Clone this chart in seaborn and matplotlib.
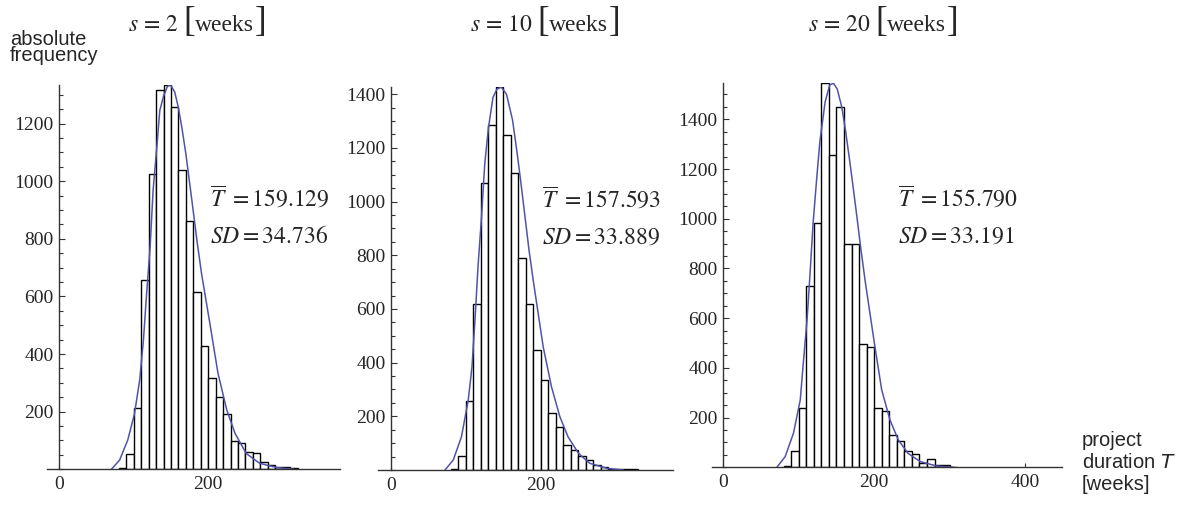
import numpy as np
import pandas as pd
import matplotlib
matplotlib.use('Agg')
import matplotlib.pyplot as plt
from matplotlib.ticker import MultipleLocator
import seaborn as sns

# Set style
sns.set_style('ticks')
plt.rcParams['font.family'] = ['Liberation Serif', 'DejaVu Serif']
plt.rcParams['mathtext.fontset'] = 'stix'

# --- data (bin width 10 weeks, first bin starts at 80) ---
titles = ['2', '10', '20']
mean_T = ['159.129', '157.593', '155.790']
sd_T = ['34.736', '33.889', '33.191']

counts_s2 = [5, 52, 212, 657, 1024, 1318, 1333, 1258, 1040, 862, 614, 428,
             316, 252, 191, 97, 92, 61, 55, 26, 16, 7, 9, 4]
counts_s10 = [5, 53, 258, 617, 1068, 1285, 1427, 1249, 1105, 791, 618, 446,
              337, 214, 160, 93, 75, 53, 36, 19, 12, 5, 3, 2, 2]
counts_s20 = [5, 66, 239, 730, 982, 1545, 1257, 1448, 898, 898, 496, 483,
              237, 226, 130, 106, 66, 53, 16, 33, 8, 8, 3]

# fitted density curves (absolute frequency scale)
curve_x_s2 = [70, 81, 92, 101, 108, 113, 117, 122, 126, 131, 135, 140, 145, 149,
              155, 160, 165, 170, 178, 185, 191, 202, 213, 225, 236, 251, 269, 292, 315]
curve_y_s2 = [0, 32, 102, 193, 310, 448, 599, 772, 969, 1119, 1246, 1295, 1328, 1336,
              1310, 1255, 1180, 1095, 935, 792, 680, 510, 335, 205, 125, 55, 21, 6, 0]
curve_x_s10 = [72, 83, 94, 103, 108, 112, 116, 121, 125, 130, 136, 141, 147, 154,
               162, 168, 173, 179, 184, 190, 203, 214, 225, 236, 250, 265, 288, 310]
curve_y_s10 = [0, 37, 124, 260, 384, 558, 756, 954, 1140, 1276, 1388, 1418, 1427, 1400,
               1305, 1185, 1075, 936, 820, 700, 458, 310, 200, 124, 62, 25, 6, 0]
curve_x_s20 = [71, 82, 93, 102, 106, 111, 115, 119, 124, 128, 135, 141, 146, 151,
               157, 162, 167, 172, 177, 182, 188, 201, 210, 221, 232, 245, 261, 283, 305]
curve_y_s20 = [0, 43, 137, 271, 418, 593, 780, 981, 1169, 1310, 1470, 1538, 1545, 1522,
               1450, 1355, 1245, 1130, 1010, 887, 750, 485, 311, 190, 110, 56, 23, 5, 0]

counts = [counts_s2, counts_s10, counts_s20]
curves = [(curve_x_s2, curve_y_s2), (curve_x_s10, curve_y_s10), (curve_x_s20, curve_y_s20)]

W, H = 1190, 505
fig = plt.figure(figsize=(W / 100, H / 100), dpi=100)
renderer = fig.canvas.get_renderer()


def px_rect(left, right, top, bottom):
    return [left / W, 1 - bottom / H, (right - left) / W, (bottom - top) / H]


# panel boxes in pixels, and axis ranges
boxes = [(47, 340, 85, 469.3), (378, 673, 86.7, 470), (712, 1062, 83, 467.3)]
xlims = [(-16.5, 377), (-17.3, 376), (-15, 449)]
ylims = [(0, 1334), (0, 1428), (0, 1546)]
xticks = [[0, 200], [0, 200], [0, 200, 400]]
text_pos = [(203, 910, 785), (201, 979, 845), (232, 1048, 903)]
title_x = [128, 470, 808]
curve_color = '#5252aa'

for i in range(3):
    ax = fig.add_axes(px_rect(*boxes[i]))
    c = counts[i]
    df = pd.DataFrame({'T': 85 + 10 * np.arange(len(c)), 'n': c})
    sns.histplot(data=df, x='T', weights='n', binwidth=10,
                 binrange=(80, 80 + 10 * len(c)), ax=ax, color='white',
                 edgecolor='black', linewidth=1.0, alpha=1)
    sns.lineplot(x=curves[i][0], y=curves[i][1], ax=ax, color=curve_color,
                 linewidth=1.1)
    ax.set_xlim(*xlims[i])
    ax.set_ylim(*ylims[i])
    ax.set_xlabel('')
    ax.set_ylabel('')
    for s in ['top', 'right']:
        ax.spines[s].set_visible(False)
    ax.spines['left'].set_position(('data', 0))
    for s in ['left', 'bottom']:
        ax.spines[s].set_color('#333333')
        ax.spines[s].set_linewidth(1.0)
    ax.set_xticks(xticks[i])
    ax.set_yticks(np.arange(200, ylims[i][1], 200))
    ax.yaxis.set_minor_locator(MultipleLocator(50))
    ax.tick_params(axis='y', which='major', direction='in', length=4.5, width=0.8,
                   pad=4, labelsize=14, color='#333333')
    ax.tick_params(axis='y', which='minor', direction='in', length=3, width=0.8,
                   color='#333333')
    ax.tick_params(axis='x', which='major', direction='in', length=3, width=0.8,
                   pad=5, labelsize=14, color='#333333')
    ax.patch.set_alpha(0)

    tx, ty1, ty2 = text_pos[i]
    ax.text(tx, ty1, r'$\overline{T}\ =' + mean_T[i] + '$', fontsize=17, va='baseline')
    ax.text(tx, ty2, r'$SD=' + sd_T[i] + '$', fontsize=17, va='baseline')

    # title: "s = n [weeks]" with tall brackets, laid out piece by piece
    yb = 1 - 31 / H
    pieces = [(r'$s\,=\,' + titles[i] + '$', 17, 0),
              ('[', 25, 4),
              ('weeks', 17, 0),
              (']', 25, 1)]
    x = title_x[i]
    for txt, fs, gap in pieces:
        x += gap
        t = fig.text(x / W, yb, txt, fontsize=fs, va='baseline')
        bb = t.get_window_extent(renderer)
        x = bb.x1

sans = ['Liberation Sans', 'DejaVu Sans']
fig.text(10 / W, 1 - 30 / H, 'absolute\nfrequency', family=sans, fontsize=14.5,
         va='top', linespacing=0.78)
fig.text(1082 / W, 1 - 446 / H, 'project', family=sans, fontsize=14.5, va='baseline')
fig.text(1082 / W, 1 - 468 / H, 'duration $T$', family=sans, fontsize=14.5,
         va='baseline', math_fontfamily='dejavusans')
fig.text(1082 / W, 1 - 490 / H, '[weeks]', family=sans, fontsize=14.5, va='baseline')

fig.savefig('out.png', dpi=100)
